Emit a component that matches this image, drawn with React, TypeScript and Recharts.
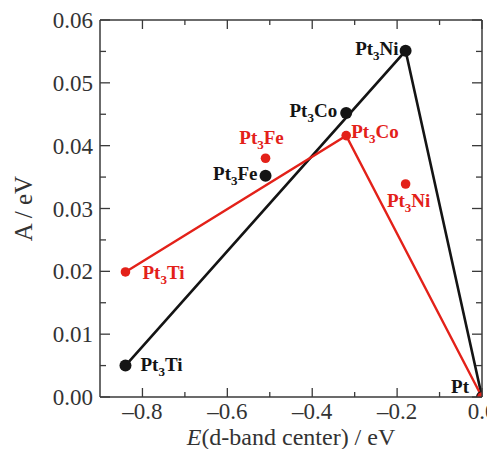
import React from 'react';
import { ScatterChart, Scatter, XAxis, YAxis, Label } from 'recharts';

// d-band center (eV) and A (eV) for each alloy, two model sets
const compounds = ['Pt3Ti', 'Pt3Fe', 'Pt3Co', 'Pt3Ni', 'Pt'];
const dBandBlack = [-0.84, -0.51, -0.32, -0.18, 0.0];
const aBlack = [0.005, 0.0352, 0.0452, 0.0551, 0.0];
const dBandRed = [-0.84, -0.51, -0.32, -0.18, 0.0];
const aRed = [0.0199, 0.038, 0.0416, 0.0339, 0.0];

// which points are joined by each polyline
const blackLineOrder = ['Pt3Ti', 'Pt3Ni', 'Pt'];
const redLineOrder = ['Pt3Ti', 'Pt3Co', 'Pt'];

const xTicks = [-0.8, -0.7, -0.6, -0.5, -0.4, -0.3, -0.2, -0.1, 0.0];
const yTicks = [0, 0.005, 0.01, 0.015, 0.02, 0.025, 0.03, 0.035, 0.04, 0.045, 0.05, 0.055, 0.06];

const BLACK = '#141414';
const RED = '#e32119';
const AXIS = '#3a3a3a';
const FONT = '"Liberation Serif", "Times New Roman", serif';

type Pt = { x: number; y: number; name: string };

const blackPoints: Pt[] = compounds.map((name, i) => ({ x: dBandBlack[i], y: aBlack[i], name }));
const redPoints: Pt[] = compounds.map((name, i) => ({ x: dBandRed[i], y: aRed[i], name }));
const blackLine = blackLineOrder.map((n) => blackPoints.find((p) => p.name === n)!);
const redLine = redLineOrder.map((n) => redPoints.find((p) => p.name === n)!);

type Place = { dx: number; dy: number; anchor: 'start' | 'middle' | 'end' };

const blackLabels: Record<string, Place> = {
  Pt3Ti: { dx: 15, dy: 5, anchor: 'start' },
  Pt3Fe: { dx: -8, dy: 4, anchor: 'end' },
  Pt3Co: { dx: -9, dy: 4, anchor: 'end' },
  Pt3Ni: { dx: -7, dy: 4, anchor: 'end' },
  Pt: { dx: -13, dy: -4, anchor: 'end' },
};

const redLabels: Record<string, Place> = {
  Pt3Ti: { dx: 17, dy: 7, anchor: 'start' },
  Pt3Fe: { dx: -4, dy: -14, anchor: 'middle' },
  Pt3Co: { dx: 5, dy: 2, anchor: 'start' },
  Pt3Ni: { dx: 3, dy: 23, anchor: 'middle' },
};

const CompoundText = ({ x, y, name, color, anchor }: { x: number; y: number; name: string; color: string; anchor: string }) => {
  const m = name.match(/^Pt(3?)(.*)$/);
  const sub = m ? m[1] : '';
  const rest = m ? m[2] : '';
  return (
    <text x={x} y={y} textAnchor={anchor} fill={color} fontFamily={FONT} fontWeight="bold" fontSize={19}>
      Pt
      {sub && (
        <tspan dy={5} fontSize={13}>
          {sub}
        </tspan>
      )}
      {rest && <tspan dy={sub ? -5 : 0}>{rest}</tspan>}
    </text>
  );
};

const makeDot = (color: string, r: number, labels: Record<string, Place>) => (props: any) => {
  const { cx, cy, payload } = props;
  const place = labels[payload.name];
  return (
    <g>
      <circle cx={cx} cy={cy} r={r} fill={color} />
      {place && (
        <CompoundText x={cx + place.dx} y={cy + place.dy} name={payload.name} color={color} anchor={place.anchor} />
      )}
    </g>
  );
};

const isMajorX = (v: number) => Math.round(Math.abs(v) * 10) % 2 === 0;
const isMajorY = (v: number) => Math.round(v * 1000) % 10 === 0;
const fmtX = (v: number) => (Math.abs(v) < 1e-9 ? '0.0' : (v < 0 ? '\u2013' : '') + Math.abs(v).toFixed(1));

const BottomTick = (props: any) => {
  const { x, y, payload } = props;
  const v = payload.value as number;
  const major = isMajorX(v);
  return (
    <g>
      <line x1={x} y1={y} x2={x} y2={y - (major ? 9 : 5)} stroke={AXIS} strokeWidth={1.3} />
      {major && (
        <text x={x} y={y + 22} textAnchor="middle" fill="#333" fontFamily={FONT} fontSize={23}>
          {fmtX(v)}
        </text>
      )}
    </g>
  );
};

const TopTick = (props: any) => {
  const { x, y, payload } = props;
  const major = isMajorX(payload.value);
  return <line x1={x} y1={y} x2={x} y2={y + (major ? 9 : 5)} stroke={AXIS} strokeWidth={1.3} />;
};

const LeftTick = (props: any) => {
  const { x, y, payload } = props;
  const v = payload.value as number;
  const major = isMajorY(v);
  return (
    <g>
      <line x1={x} y1={y} x2={x + (major ? 10 : 6)} y2={y} stroke={AXIS} strokeWidth={1.3} />
      {major && (
        <text x={x - 7} y={y + 8} textAnchor="end" fill="#333" fontFamily={FONT} fontSize={23}>
          {v.toFixed(2)}
        </text>
      )}
    </g>
  );
};

const RightTick = (props: any) => {
  const { x, y, payload } = props;
  const major = isMajorY(payload.value);
  return <line x1={x} y1={y} x2={x - (major ? 10 : 6)} y2={y} stroke={AXIS} strokeWidth={1.3} />;
};

const noShape = () => <g />;

export default function App() {
  return (
    <div style={{ position: 'fixed', left: 0, top: 0, background: '#fff' }}>
      <ScatterChart width={487} height={449} margin={{ top: 19, right: 4, bottom: 0, left: 0 }}>
        <XAxis
          type="number"
          dataKey="x"
          domain={[-0.9, 0]}
          allowDataOverflow
          ticks={xTicks}
          interval={0}
          height={52}
          tickSize={0}
          tickMargin={0}
          tick={<BottomTick />}
          axisLine={{ stroke: AXIS, strokeWidth: 1.5 }}
        >
          <Label
            content={(p: any) => {
              const vb = p.viewBox;
              return (
                <text x={vb.x + vb.width / 2} y={vb.y + 48} textAnchor="middle" fill="#333" fontFamily={FONT} fontSize={24}>
                  <tspan fontStyle="italic">E</tspan>(d-band center) / eV
                </text>
              );
            }}
          />
        </XAxis>
        <XAxis
          xAxisId="top"
          orientation="top"
          type="number"
          dataKey="x"
          domain={[-0.9, 0]}
          allowDataOverflow
          ticks={xTicks}
          interval={0}
          height={1}
          tickSize={0}
          tickMargin={0}
          tick={<TopTick />}
          axisLine={{ stroke: AXIS, strokeWidth: 1.5 }}
        />
        <YAxis
          type="number"
          dataKey="y"
          domain={[0, 0.06]}
          allowDataOverflow
          ticks={yTicks}
          interval={0}
          width={100}
          tickSize={0}
          tickMargin={0}
          tick={<LeftTick />}
          axisLine={{ stroke: AXIS, strokeWidth: 1.5 }}
        >
          <Label
            content={(p: any) => {
              const vb = p.viewBox;
              const cy = vb.y + vb.height / 2;
              return (
                <text
                  x={23}
                  y={cy}
                  transform={`rotate(-90 23 ${cy})`}
                  textAnchor="middle"
                  dominantBaseline="central"
                  fill="#333"
                  fontFamily={FONT}
                  fontSize={25}
                >
                  A / eV
                </text>
              );
            }}
          />
        </YAxis>
        <YAxis
          yAxisId="right"
          orientation="right"
          type="number"
          dataKey="y"
          domain={[0, 0.06]}
          allowDataOverflow
          ticks={yTicks}
          interval={0}
          width={1}
          tickSize={0}
          tickMargin={0}
          tick={<RightTick />}
          axisLine={{ stroke: AXIS, strokeWidth: 1.5 }}
        />
        <Scatter data={blackLine} line={{ stroke: BLACK, strokeWidth: 2.6 }} lineType="joint" shape={noShape} isAnimationActive={false} />
        <Scatter data={redLine} line={{ stroke: RED, strokeWidth: 2.4 }} lineType="joint" shape={noShape} isAnimationActive={false} />
        <Scatter data={blackPoints} shape={makeDot(BLACK, 6, blackLabels)} isAnimationActive={false} />
        <Scatter data={redPoints} shape={makeDot(RED, 4.8, redLabels)} isAnimationActive={false} />
        {/* invisible series so the mirrored frame axes get drawn */}
        <Scatter xAxisId="top" yAxisId="right" data={blackPoints} shape={noShape} isAnimationActive={false} />
      </ScatterChart>
    </div>
  );
}
